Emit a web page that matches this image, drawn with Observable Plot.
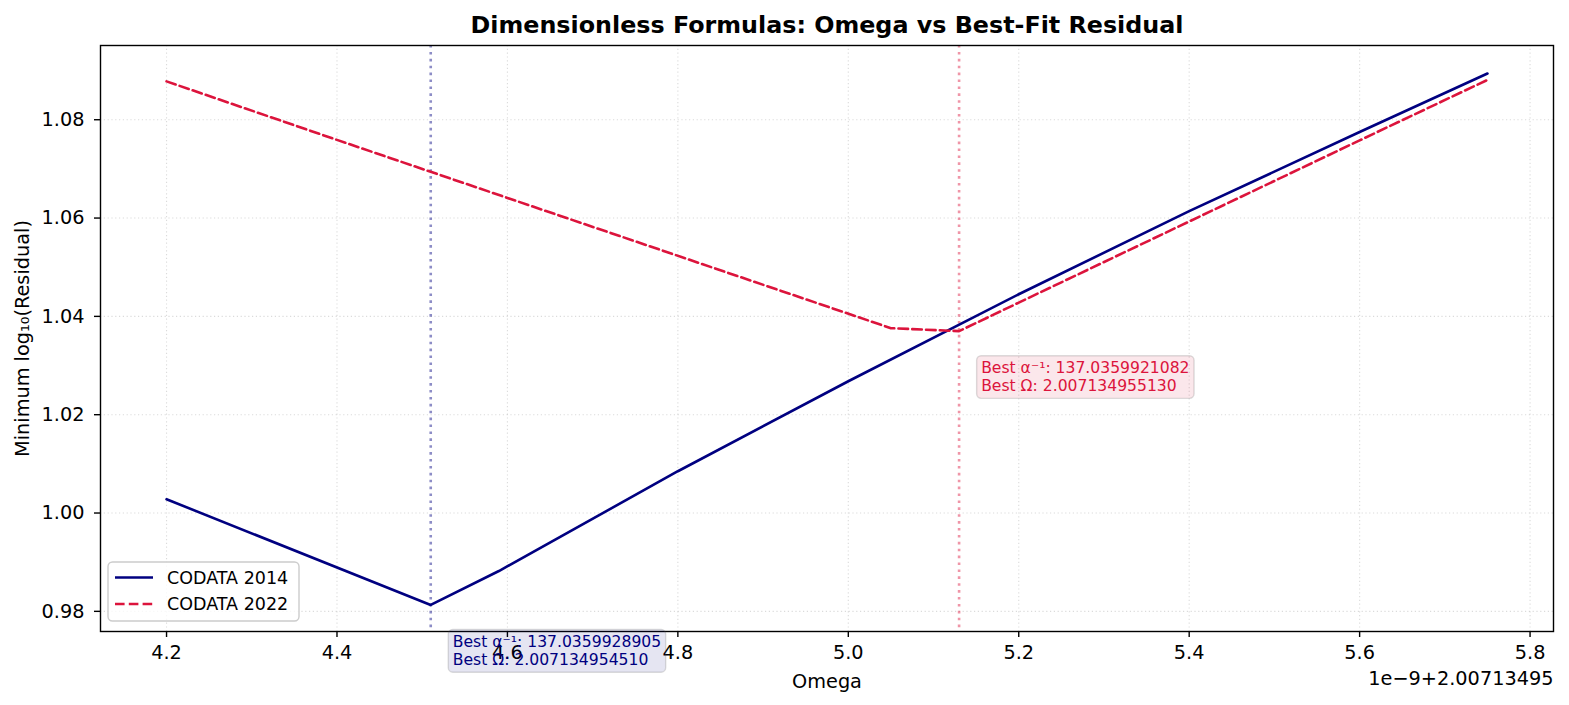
<!DOCTYPE html>
<html>
<head>
<meta charset="utf-8">
<script src="https://cdn.jsdelivr.net/npm/d3@7"></script>
<script src="https://cdn.jsdelivr.net/npm/@observablehq/plot@0.6"></script>
<style>
  html, body { margin: 0; padding: 0; background: #fff; }
  #chart svg { display: block; }
</style>
</head>
<body>
<div id="chart"></div>
<script>
// Omega values are offsets in units of 1e-9 relative to 2.00713495
const omega2014 = [4.20, 4.51, 4.59, 4.80, 5.00, 5.20, 5.40, 5.60, 5.75];
const res2014   = [1.0028, 0.9813, 0.9882, 1.0085, 1.0268, 1.0445, 1.0614, 1.0775, 1.0894];
const omega2022 = [4.20, 4.40, 4.60, 5.05, 5.13, 5.20, 5.40, 5.60, 5.75];
const res2022   = [1.0878, 1.0759, 1.0641, 1.0376, 1.0370, 1.0428, 1.0593, 1.0758, 1.0881];

const seriesNames  = ["CODATA 2014", "CODATA 2022"];
const seriesColors = ["navy", "crimson"];
const bestOmega    = [4.51, 5.13];
const bestResidual = [0.9813, 1.0370];
const bestLabels   = [
  "Best α⁻¹: 137.0359928905\nBest Ω: 2.007134954510",
  "Best α⁻¹: 137.0359921082\nBest Ω: 2.007134955130"
];

const xTicks = [4.2, 4.4, 4.6, 4.8, 5.0, 5.2, 5.4, 5.6, 5.8];
const yTicks = [0.98, 1.00, 1.02, 1.04, 1.06, 1.08];
const titleText  = "Dimensionless Formulas: Omega vs Best-Fit Residual";
const xLabelText = "Omega";
const yLabelText = "Minimum log₁₀(Residual)";
const offsetText = "1e−9+2.00713495";

const d2014 = omega2014.map((x, i) => ({x, y: res2014[i]}));
const d2022 = omega2022.map((x, i) => ({x, y: res2022[i]}));
const annots = bestOmega.map((b, i) => ({x: b + 0.02, y: bestResidual[i] - 0.005, text: bestLabels[i], color: seriesColors[i]}));

const font = "DejaVu Sans, sans-serif";

const plot = Plot.plot({
  width: 1569,
  height: 705,
  marginLeft: 100,
  marginRight: 16,
  marginTop: 45,
  marginBottom: 74,
  style: {fontFamily: font, fontSize: "19.3px", color: "black", background: "white"},
  x: {domain: [4.1225, 5.8275], label: null},
  y: {domain: [0.9759, 1.0951], label: null},
  marks: [
    Plot.gridX(xTicks, {stroke: "#b0b0b0", strokeOpacity: 0.45, strokeWidth: 1.1, strokeDasharray: "1.2,2.6"}),
    Plot.gridY(yTicks, {stroke: "#b0b0b0", strokeOpacity: 0.45, strokeWidth: 1.1, strokeDasharray: "1.2,2.6"}),
    Plot.ruleX([bestOmega[0]], {stroke: seriesColors[0], strokeOpacity: 0.45, strokeWidth: 2.6, strokeDasharray: "2.6,4.3"}),
    Plot.ruleX([bestOmega[1]], {stroke: seriesColors[1], strokeOpacity: 0.45, strokeWidth: 2.6, strokeDasharray: "2.6,4.3"}),
    Plot.line(d2014, {x: "x", y: "y", stroke: seriesColors[0], strokeWidth: 2.6}),
    Plot.line(d2022, {x: "x", y: "y", stroke: seriesColors[1], strokeWidth: 2.6, strokeDasharray: "9.6,4.2"}),
    Plot.frame({stroke: "black", strokeWidth: 1.4}),
    Plot.axisX(xTicks, {tickSize: 6, tickPadding: 8, tickFormat: d3.format(".1f"), stroke: "black", strokeWidth: 1.4, fill: "black", label: null}),
    Plot.axisY(yTicks, {tickSize: 6, tickPadding: 10, tickFormat: d3.format(".2f"), stroke: "black", strokeWidth: 1.4, fill: "black", label: null}),
    Plot.text(annots, {x: "x", y: "y", text: "text", fill: "color", textAnchor: "start", lineAnchor: "top", dx: 5, dy: 5, fontSize: 15.6, lineHeight: 1.13, className: "annot"}),
    Plot.text([titleText], {frameAnchor: "top", textAnchor: "middle", lineAnchor: "middle", dy: -20.5, fontSize: 23.8, fontWeight: "bold", fill: "black"}),
    Plot.text([xLabelText], {frameAnchor: "bottom", textAnchor: "middle", lineAnchor: "middle", dy: 50, fill: "black"}),
    Plot.text([offsetText], {frameAnchor: "bottom-right", textAnchor: "end", lineAnchor: "middle", dy: 47, fill: "black"}),
    Plot.text([yLabelText], {frameAnchor: "left", textAnchor: "middle", lineAnchor: "middle", rotate: -90, dx: -78, fill: "black"})
  ]
});

document.getElementById("chart").appendChild(plot);

const svg = d3.select(plot);

// rounded boxes behind annotation texts
svg.selectAll("g.annot text").each(function() {
  const bb = this.getBBox();
  const color = this.getAttribute("fill");
  const tr = this.getAttribute("transform");
  const pad = 4.5;
  const r = d3.select(this.parentNode).insert("rect", () => this)
    .attr("x", bb.x - pad).attr("y", bb.y - pad + 1)
    .attr("width", bb.width + 2 * pad).attr("height", bb.height + 2 * pad - 2)
    .attr("rx", 4.5)
    .attr("fill", color).attr("fill-opacity", 0.1)
    .attr("stroke", "#555").attr("stroke-opacity", 0.2).attr("stroke-width", 1.4);
  if (tr) r.attr("transform", tr);
});

// legend
const lg = svg.append("g").attr("font-family", font).attr("font-size", "17.5px").attr("text-anchor", "start");
lg.append("rect").attr("x", 108).attr("y", 562).attr("width", 191).attr("height", 59).attr("rx", 4.5)
  .attr("fill", "white").attr("fill-opacity", 0.8).attr("stroke", "#cccccc").attr("stroke-width", 1.4);
seriesNames.forEach((name, i) => {
  const yy = 577.5 + i * 26.5;
  lg.append("line").attr("x1", 115).attr("x2", 153).attr("y1", yy).attr("y2", yy)
    .attr("stroke", seriesColors[i]).attr("stroke-width", 2.6)
    .attr("stroke-dasharray", i === 1 ? "9.6,4.2" : null);
  lg.append("text").attr("x", 167).attr("y", yy).attr("dy", "0.36em").attr("fill", "black").text(name);
});
</script>
</body>
</html>
